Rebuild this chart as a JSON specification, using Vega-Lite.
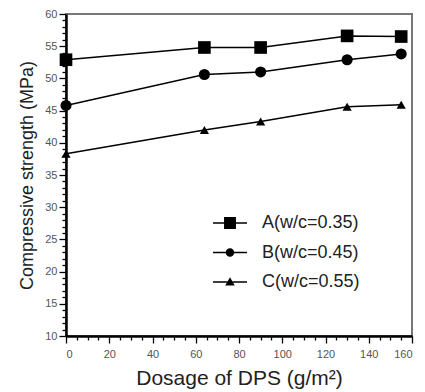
{
  "$schema": "https://vega.github.io/schema/vega-lite/v6.json",
  "width": 346,
  "height": 322,
  "autosize": {"type": "none"},
  "padding": {"left": 66, "top": 14, "right": 13, "bottom": 56},
  "background": "white",
  "config": {
    "font": "Liberation Sans",
    "view": {"stroke": "#777", "strokeWidth": 2},
    "axis": {"grid": false, "domainColor": "black", "tickColor": "black", "labelFont": "Liberation Sans", "titleFont": "Liberation Sans", "titleFontWeight": "normal"}
  },
  "data": {
    "values": [
      {"series": "A(w/c=0.35)", "dosage": 0, "strength": 52.9},
      {"series": "A(w/c=0.35)", "dosage": 64, "strength": 54.8},
      {"series": "A(w/c=0.35)", "dosage": 90, "strength": 54.8},
      {"series": "A(w/c=0.35)", "dosage": 130, "strength": 56.6},
      {"series": "A(w/c=0.35)", "dosage": 155, "strength": 56.5},
      {"series": "B(w/c=0.45)", "dosage": 0, "strength": 45.8},
      {"series": "B(w/c=0.45)", "dosage": 64, "strength": 50.6},
      {"series": "B(w/c=0.45)", "dosage": 90, "strength": 51.0},
      {"series": "B(w/c=0.45)", "dosage": 130, "strength": 52.9},
      {"series": "B(w/c=0.45)", "dosage": 155, "strength": 53.8},
      {"series": "C(w/c=0.55)", "dosage": 0, "strength": 38.3},
      {"series": "C(w/c=0.55)", "dosage": 64, "strength": 42.0},
      {"series": "C(w/c=0.55)", "dosage": 90, "strength": 43.3},
      {"series": "C(w/c=0.55)", "dosage": 130, "strength": 45.6},
      {"series": "C(w/c=0.55)", "dosage": 155, "strength": 45.9}
    ]
  },
  "encoding": {
    "x": {"field": "dosage", "type": "quantitative", "scale": {"domain": [0, 160], "nice": false},
      "axis": {"orient": "bottom",
        "values": [0, 5, 10, 15, 20, 25, 30, 35, 40, 45, 50, 55, 60, 65, 70, 75, 80, 85, 90, 95, 100, 105, 110, 115, 120, 125, 130, 135, 140, 145, 150, 155, 160],
        "labelExpr": "datum.value % 20 === 0 ? datum.label : ''",
        "tickSize": {"condition": {"test": "datum.value % 20 === 0", "value": 7}, "value": 4},
        "title": "Dosage of DPS (g/m²)", "titleFontSize": 21, "titleColor": "#222", "titlePadding": 8, "labelFontSize": 11, "labelColor": "#555", "tickWidth": 1.3, "domainWidth": 2.5, "labelPadding": 5, "labelOverlap": false}},
    "y": {"field": "strength", "type": "quantitative", "scale": {"domain": [10, 60], "nice": false},
      "axis": {"orient": "left",
        "values": [10, 11, 12, 13, 14, 15, 16, 17, 18, 19, 20, 21, 22, 23, 24, 25, 26, 27, 28, 29, 30, 31, 32, 33, 34, 35, 36, 37, 38, 39, 40, 41, 42, 43, 44, 45, 46, 47, 48, 49, 50, 51, 52, 53, 54, 55, 56, 57, 58, 59, 60],
        "labelExpr": "datum.value % 5 === 0 ? datum.label : ''",
        "tickSize": {"condition": {"test": "datum.value % 5 === 0", "value": 7}, "value": 4},
        "title": "Compressive strength (MPa)", "titleFontSize": 18, "titleColor": "#222", "titlePadding": 8, "labelFontSize": 11, "labelColor": "#555", "tickWidth": 1.3, "domainWidth": 2.5, "labelPadding": 2, "labelOverlap": false}}
  },
  "resolve": {"scale": {"shape": "independent", "size": "independent"}},
  "layer": [
    {
      "mark": {"type": "line", "color": "black", "strokeWidth": 1.5},
      "encoding": {"detail": {"field": "series"}}
    },
    {
      "mark": {"type": "point", "filled": true, "color": "black", "opacity": 1},
      "encoding": {
        "shape": {"field": "series", "type": "nominal", "scale": {"range": ["square", "circle", "triangle-up"]}, "legend": null},
        "size": {"field": "series", "type": "nominal", "scale": {"range": [160, 85, 100]}, "legend": null}
      }
    },
    {
      "transform": [{"filter": "false"}],
      "mark": {"type": "point", "filled": true, "color": "black", "opacity": 1},
      "encoding": {
        "shape": {"field": "series", "type": "nominal",
          "scale": {"domain": ["A(w/c=0.35)", "B(w/c=0.45)", "C(w/c=0.55)"],
            "range": [
              "M-1,-0.045H1V0.045H-1ZM-0.35,-0.35H0.35V0.35H-0.35Z",
              "M-1,-0.045H1V0.045H-1ZM-0.25,0A0.25,0.25 0 1,1 0.25,0A0.25,0.25 0 1,1 -0.25,0Z",
              "M-1,-0.045H1V0.045H-1ZM0,-0.28L0.28,0.2L-0.28,0.2Z"
            ]},
          "legend": {"title": null, "orient": "none", "legendX": 147, "legendY": 192, "padding": 0, "symbolSize": 1156, "symbolFillColor": "black", "symbolStrokeWidth": 0, "symbolOpacity": 1, "labelFontSize": 18, "labelColor": "#222", "labelOffset": 15, "rowPadding": 3.5, "labelFont": "Liberation Sans"}
        }
      }
    }
  ]
}
